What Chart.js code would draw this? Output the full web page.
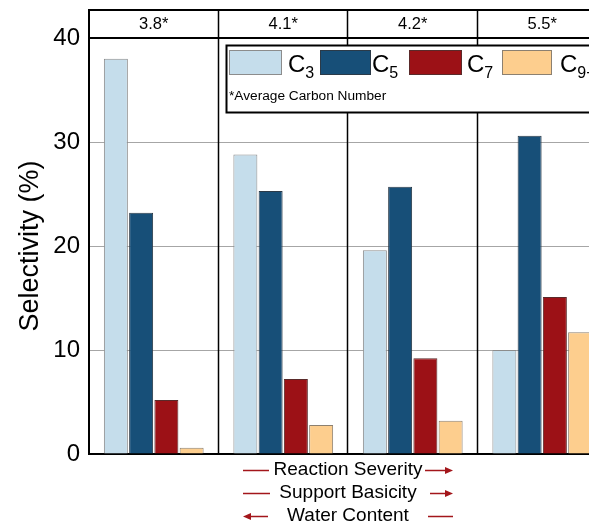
<!DOCTYPE html>
<html>
<head>
<meta charset="utf-8">
<script src="https://cdn.jsdelivr.net/npm/chart.js@4"></script>
<style>
  html, body { margin: 0; padding: 0; background: #fff; overflow: hidden; }
  #wrap { width: 620px; height: 527px; }
</style>
</head>
<body>
<div id="wrap"><canvas id="selectivityChart" width="620" height="527"></canvas></div>
<script>
const groupLabels = ["3.8*", "4.1*", "4.2*", "5.5*"];
const c3Values = [38.0, 28.8, 19.6, 10.0];
const c5Values = [23.2, 25.3, 25.7, 30.6];
const c7Values = [5.2, 7.2, 9.2, 15.1];
const c9Values = [0.6, 2.8, 3.2, 11.7];
const yTicks = [0, 10, 20, 30, 40];

const FONT = "'Liberation Sans', Arial, sans-serif";
Chart.defaults.font.family = FONT;
Chart.defaults.color = "#000";

const legendItems = [
  { name: "C", sub: "3", color: "#C5DDEB", border: "#8C8C8C" },
  { name: "C", sub: "5", color: "#174F78", border: "#2B3A48" },
  { name: "C", sub: "7", color: "#9C1116", border: "#5A2A2A" },
  { name: "C", sub: "9+", color: "#FDCE8E", border: "#8C8070" }
];

// header, separators, legend box and the arrow captions
const decorations = {
  id: "decorations",
  afterDraw(chart) {
    const { ctx, chartArea, scales: { x } } = chart;
    const { left, top, bottom } = chartArea;
    const W = chart.width;
    const gw = (x.right - x.left) / groupLabels.length;
    const headTop = top - 28;
    ctx.save();

    // group separators
    ctx.strokeStyle = "#000";
    ctx.lineWidth = 1.5;
    for (let i = 1; i < groupLabels.length; i++) {
      const sx = Math.round(x.left + gw * i) - 0.5;
      ctx.beginPath();
      ctx.moveTo(sx, headTop);
      ctx.lineTo(sx, bottom);
      ctx.stroke();
    }

    // header strip
    ctx.lineWidth = 2;
    ctx.beginPath();
    ctx.moveTo(left, headTop);
    ctx.lineTo(W, headTop);
    ctx.moveTo(left, top);
    ctx.lineTo(W, top);
    ctx.moveTo(left, headTop - 1);
    ctx.lineTo(left, top);
    ctx.stroke();

    ctx.fillStyle = "#000";
    ctx.font = "16.5px " + FONT;
    ctx.textAlign = "center";
    ctx.textBaseline = "middle";
    groupLabels.forEach((lab, i) => {
      ctx.fillText(lab, x.left + gw * (i + 0.5), headTop + 14.5);
    });

    // legend box
    const bx = left + 137.5, by = top + 7.5;
    ctx.fillStyle = "#fff";
    ctx.fillRect(bx, by, W, 67);
    ctx.lineWidth = 2;
    ctx.strokeStyle = "#000";
    ctx.strokeRect(bx, by, W, 67);

    const swX = [229, 320, 409, 502];
    const swW = [53, 51, 53, 50];
    const txX = [288, 372, 467, 560];
    legendItems.forEach((it, i) => {
      ctx.fillStyle = it.color;
      ctx.fillRect(swX[i], 50, swW[i], 25);
      ctx.lineWidth = 1;
      ctx.strokeStyle = it.border;
      ctx.strokeRect(swX[i] + 0.5, 50.5, swW[i] - 1, 24);
      ctx.fillStyle = "#000";
      ctx.textAlign = "left";
      ctx.textBaseline = "alphabetic";
      ctx.font = "24px " + FONT;
      ctx.fillText(it.name, txX[i], 72);
      const cw = ctx.measureText(it.name).width;
      ctx.font = "16px " + FONT;
      ctx.fillText(it.sub, txX[i] + cw, 78);
    });
    ctx.font = "13.7px " + FONT;
    ctx.fillText("*Average Carbon Number", 229, 100);

    // arrow captions
    const cx = x.left + gw * 2;
    const red = "#A3161B";
    const rows = [
      { text: "Reaction Severity", y: 470, l: [-105, -79, 0], r: [77, 105, 1] },
      { text: "Support Basicity", y: 493, l: [-105, -78, 0], r: [82, 105, 1] },
      { text: "Water Content", y: 516, l: [-105, -80, -1], r: [80, 105, 0] }
    ];
    ctx.font = "19px " + FONT;
    ctx.textAlign = "center";
    ctx.textBaseline = "middle";
    rows.forEach(row => {
      ctx.fillStyle = "#000";
      ctx.fillText(row.text, cx, row.y);
      [row.l, row.r].forEach(seg => {
        const x1 = cx + seg[0], x2 = cx + seg[1], y = Math.round(row.y) + 0.5;
        ctx.strokeStyle = red;
        ctx.fillStyle = red;
        ctx.lineWidth = 1.5;
        ctx.beginPath();
        if (seg[2] === 1) {
          ctx.moveTo(x1, y); ctx.lineTo(x2 - 6, y); ctx.stroke();
          ctx.beginPath();
          ctx.moveTo(x2, y); ctx.lineTo(x2 - 8, y - 3.5); ctx.lineTo(x2 - 8, y + 3.5);
          ctx.closePath(); ctx.fill();
        } else if (seg[2] === -1) {
          ctx.moveTo(x1 + 6, y); ctx.lineTo(x2, y); ctx.stroke();
          ctx.beginPath();
          ctx.moveTo(x1, y); ctx.lineTo(x1 + 8, y - 3.5); ctx.lineTo(x1 + 8, y + 3.5);
          ctx.closePath(); ctx.fill();
        } else {
          ctx.moveTo(x1, y); ctx.lineTo(x2, y); ctx.stroke();
        }
      });
    });
    ctx.restore();
  }
};

const seriesValues = [c3Values, c5Values, c7Values, c9Values];
const ctx = document.getElementById("selectivityChart").getContext("2d");
const selectivityChart = new Chart(ctx, {
  type: "bar",
  data: {
    labels: groupLabels,
    datasets: legendItems.map((it, i) => ({
      label: it.name + it.sub,
      data: seriesValues[i],
      backgroundColor: it.color,
      borderColor: it.border,
      borderWidth: 1,
      categoryPercentage: 0.78,
      barPercentage: 0.95
    }))
  },
  options: {
    responsive: false,
    animation: false,
    layout: {
      padding: { top: 38, right: 13, bottom: 73, left: 0 }
    },
    plugins: {
      legend: { display: false },
      tooltip: { enabled: false }
    },
    scales: {
      x: {
        grid: { display: false },
        ticks: { display: false },
        border: { color: "#000", width: 2 },
        afterFit: s => { s.height = 0; }
      },
      y: {
        min: 0,
        max: 40,
        afterFit: s => { s.width = 89; },
        afterBuildTicks: s => { s.ticks = yTicks.map(v => ({ value: v })); },
        ticks: {
          padding: 9,
          font: { size: 24 },
          color: "#000"
        },
        grid: {
          drawTicks: false,
          color: c => (c.tick && (c.tick.value === 0 || c.tick.value === 40)) ? "rgba(0,0,0,0)" : "#A6A6A6",
          lineWidth: 1
        },
        border: { color: "#000", width: 2 },
        title: {
          display: true,
          text: "Selectivity (%)",
          font: { size: 27 },
          color: "#000",
          padding: { top: 14, bottom: 0 }
        }
      }
    }
  },
  plugins: [decorations]
});
</script>
</body>
</html>
